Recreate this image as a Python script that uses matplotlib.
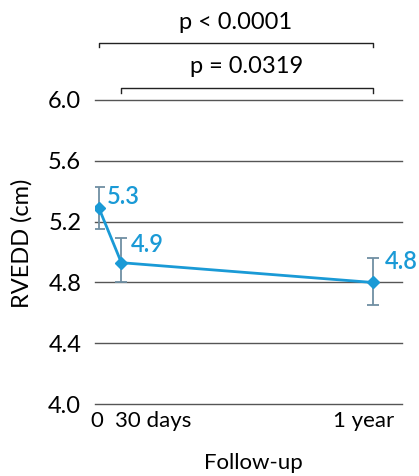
import matplotlib
matplotlib.use("Agg")
from matplotlib import pyplot as plt
import matplotlib.transforms as mtrans

# datos
dias = [0, 30, 365]
etiquetas_x = ["0", "30 days", "1 year"]
rvedd = [5.29, 4.93, 4.80]
err_sup = [5.43, 5.09, 4.96]
err_inf = [5.15, 4.80, 4.65]
etiquetas_val = ["5.3", "4.9", "4.8"]
ticks_y = [4.0, 4.4, 4.8, 5.2, 5.6, 6.0]

azul = "#1a9ad6"
gris_err = "#6f8fa3"

plt.rcParams['font.family'] = ['Lato', 'DejaVu Sans']

fig = plt.figure(figsize=(4.19, 4.76), dpi=100)
ax = fig.add_axes([0.227, 0.151, 0.732, 0.639])

for y in ticks_y:
    ax.axhline(y, color="#555555", lw=1.0, zorder=1, clip_on=False)

yerr = [[rvedd[i] - err_inf[i] for i in range(3)], [err_sup[i] - rvedd[i] for i in range(3)]]
ax.errorbar(dias, rvedd, yerr=yerr, fmt="none", ecolor=gris_err, elinewidth=1.3,
            capsize=4, capthick=1.3, zorder=2)
ax.plot(dias, rvedd, color=azul, lw=2, marker="D", markersize=6, zorder=3)

# desplazamiento de cada etiqueta (puntos)
offs = [(6, 8), (7, 13), (9, 15)]
for x, y, t, o in zip(dias, rvedd, etiquetas_val, offs):
    ax.annotate(t, (x, y), xytext=o, textcoords="offset points", color=azul,
                fontsize=17, fontweight="semibold", ha="left", va="center")

ax.set_xlim(-5, 404)
ax.set_ylim(4.0, 6.0)
ax.set_yticks(ticks_y)
ax.set_yticklabels(["%.1f" % v for v in ticks_y], fontsize=17)
ax.set_xticks(dias)
ax.set_xticklabels(etiquetas_x, fontsize=16)
ax.tick_params(axis="y", length=0, pad=10)
ax.tick_params(axis="x", length=0, pad=5)
for lab, dx, ha in zip(ax.get_xticklabels(), [-2, -6, -9], ["center", "left", "center"]):
    lab.set_ha(ha)
    lab.set_transform(lab.get_transform() + mtrans.ScaledTranslation(dx / 100, 0, fig.dpi_scale_trans))
for s in ax.spines.values():
    s.set_visible(False)

ax.set_ylabel("RVEDD (cm)", fontsize=17)
ax.yaxis.set_label_coords(-0.205, 0.53)
ax.set_xlabel("Follow-up", fontsize=16)
ax.xaxis.set_label_coords(0.515, -0.16)

# corchetes de significancia
def corchete(x1, x2, y, texto, yt):
    ax.plot([x1, x1, x2, x2], [y - 0.03, y, y, y - 0.03], color="#222222", lw=1, clip_on=False)
    ax.text((x1 + x2) / 2, yt, texto, ha="center", va="center", fontsize=17, clip_on=False)

corchete(0, 365, 6.375, "p < 0.0001", 6.51)
corchete(30, 365, 6.079, "p = 0.0319", 6.22)

plt.savefig("out.png")
